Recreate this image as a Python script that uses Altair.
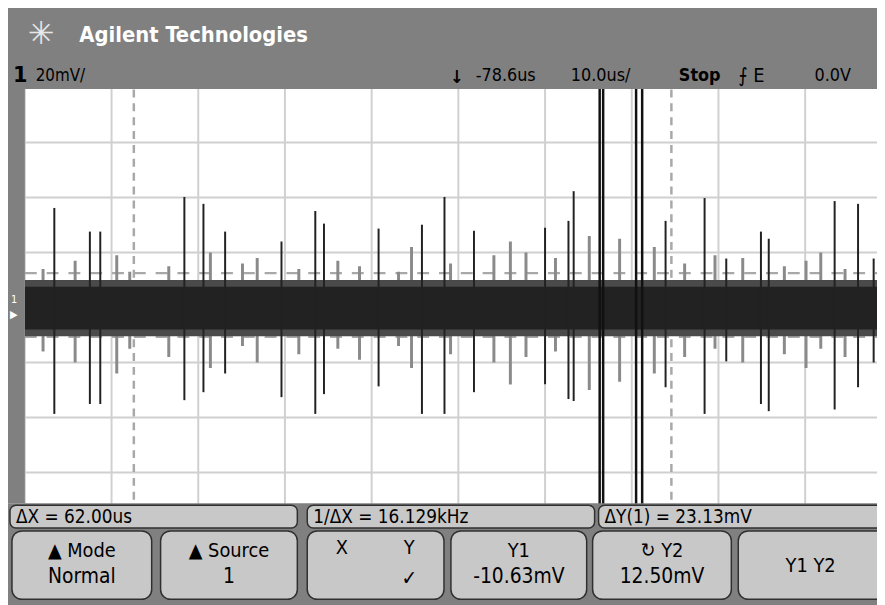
import altair as alt
import pandas as pd

# ---- data (time in us, voltage in mV) ----
grid_t = [-128.6, -118.6, -108.6, -98.6, -88.6, -78.6, -68.6, -58.6, -48.6, -38.6, -28.6]
grid_v = [-80, -60, -40, -20, 0, 20, 40, 60, 80]
cursor_x = [-116.03, -54.03]
cursor_y = [-10.63, 12.50]

spike_t = [-125.2, -121.1, -119.9, -110.2, -108.0, -105.5, -99.0, -95.1, -94.1, -87.8,
           -82.8, -80.2, -76.8, -68.6, -65.9, -65.3, -54.7, -50.2, -47.7, -43.7,
           -42.8, -35.2, -32.5, -30.7]
spike_top = [36.2, 27.6, 27.6, 40.2, 37.7, 27.6, 24.0, 35.1, 30.5, 28.7,
             30.1, 40.2, 27.9, 29.0, 31.5, 42.3, 31.5, 39.8, 17.8, 27.6,
             25.0, 38.7, 37.7, 17.8]
spike_bot = [-38.7, -35.1, -35.1, -33.7, -30.8, -24.0, -32.6, -38.7, -31.5, -28.7,
             -38.7, -38.7, -30.8, -27.9, -33.3, -34.0, -29.0, -38.7, -19.6, -35.1,
             -37.7, -37.1, -29.0, -20.0]
# medium grey spikes in the noise
grey_t = [-126.5, -122.8, -118.0, -116.5, -112.0, -107.2, -103.5, -101.8, -97.0, -92.5,
          -90.0, -85.5, -84.0, -79.5, -74.5, -72.6, -70.8, -67.4, -63.5, -60.0,
          -56.0, -52.5, -49.0, -45.8, -41.0, -38.5, -36.8, -34.0, -29.8]
grey_top = [14, 17, 19, 13, 15, 20, 16, 18, 14, 17,
            15, 13, 22, 16, 19, 24, 20, 18, 26, 25,
            22, 16, 19, 18, 15, 17, 20, 14, 16]
grey_bot = [-16, -20, -24, -15, -18, -22, -14, -20, -17, -15,
            -19, -14, -22, -17, -20, -28, -18, -16, -30, -27,
            -24, -18, -15, -20, -17, -22, -15, -18, -19]
big_t = [-62.3, -61.9, -58.1, -57.4]
big_top = [80, 80, 80, 80]
big_bot = [-80, -80, -80, -80]
band_outer = [-10.5, 10.0]
band_inner = [-8.0, 7.5]

OX, OY = 8, 8
xs = alt.Scale(domain=[-128.6, -28.6], range=[25 - OX, 900 - OX])
ys = alt.Scale(domain=[-80, 80], range=[529.5 - OY, 85.5 - OY])

def X(f):
    return alt.X(f, type="quantitative", scale=xs, axis=None)

def Y(f):
    return alt.Y(f, type="quantitative", scale=ys, axis=None)

one = pd.DataFrame({"a": [0]})

def box(x1, y1, x2, y2, fill, stroke=None, r=0, sw=1.5):
    kw = dict(fill=fill, cornerRadius=r)
    if stroke:
        kw.update(stroke=stroke, strokeWidth=sw)
    return alt.Chart(one).mark_rect(**kw).encode(
        x=alt.value(x1 - OX), x2=alt.value(x2 - OX),
        y=alt.value(y1 - OY), y2=alt.value(y2 - OY))

def txt(s, x, y, size=17, color="black", weight="normal", align="left", font="DejaVu Sans Condensed"):
    return alt.Chart(one).mark_text(text=s, fontSize=size, color=color, fontWeight=weight,
                                    align=align, baseline="middle", font=font).encode(
        x=alt.value(x - OX), y=alt.value(y - OY))

def vrules(t, a, b, color, w, dash=None):
    kw = dict(color=color, strokeWidth=w)
    if dash:
        kw["strokeDash"] = dash
    return alt.Chart(pd.DataFrame({"t": t, "a": a, "b": b})).mark_rule(**kw).encode(
        x=X("t"), y=Y("a"), y2=alt.Y2("b"))

layers = []
layers.append(box(0, 0, 900, 610, "white"))
layers.append(vrules(grid_t, [-80] * 11, [80] * 11, "#d0d0d0", 2))
layers.append(alt.Chart(pd.DataFrame({"v": grid_v, "lo": [-128.6] * 9, "hi": [-28.6] * 9}))
              .mark_rule(color="#d0d0d0", strokeWidth=2).encode(y=Y("v"), x=X("lo"), x2=alt.X2("hi")))
layers.append(vrules(cursor_x, [-80] * 2, [80] * 2, "#a8a8a8", 2.5, [8, 6]))
layers.append(alt.Chart(pd.DataFrame({"v": cursor_y, "lo": [-128.6] * 2, "hi": [-28.6] * 2}))
              .mark_rule(color="#a8a8a8", strokeWidth=2.5, strokeDash=[12, 10]).encode(y=Y("v"), x=X("lo"), x2=alt.X2("hi")))
layers.append(vrules(grey_t, grey_top, grey_bot, "#8a8a8a", 3))
layers.append(alt.Chart(pd.DataFrame({"lo": [-128.6], "hi": [-28.6], "a": [band_outer[0]], "b": [band_outer[1]]}))
              .mark_rect(color="#4a4a4a").encode(x=X("lo"), x2=alt.X2("hi"), y=Y("a"), y2=alt.Y2("b")))
layers.append(alt.Chart(pd.DataFrame({"lo": [-128.6], "hi": [-28.6], "a": [band_inner[0]], "b": [band_inner[1]]}))
              .mark_rect(color="#222222").encode(x=X("lo"), x2=alt.X2("hi"), y=Y("a"), y2=alt.Y2("b")))
layers.append(vrules(spike_t, spike_top, spike_bot, "#222", 2))
layers.append(vrules(big_t, big_top, big_bot, "#111", 2.5))

layers.append(box(0, 0, 900, 87, "#808080"))
layers.append(box(0, 87, 25, 505, "#808080"))
layers.append(box(0, 505, 900, 610, "#808080"))
for x1, x2, s in [(10, 300, "ΔX = 62.00us"), (310, 600, "1/ΔX = 16.129kHz"), (604, 900, "ΔY(1) = 23.13mV")]:
    layers.append(box(x1, 507, x2, 530, "#c8c8c8", "#303030", 6))
    layers.append(txt(s, x1 + 6, 519, 19))
keys = [(12, 153, "▲  Mode", "Normal"), (162, 300, "▲ Source", "1"),
        (455, 592, "Y1", "-10.63mV"), (598, 738, "↻  Y2", "12.50mV")]
for x1, x2, a, b in keys:
    layers.append(box(x1, 533, x2, 602, "#c8c8c8", "#303030", 10))
    cx = (x1 + x2) / 2
    layers.append(txt(a, cx, 553, 20, align="center"))
    layers.append(txt(b, cx, 580, 21, align="center"))
layers.append(box(310, 533, 448, 602, "#c8c8c8", "#303030", 10))
layers.append(txt("X", 345, 550, 20, align="center"))
layers.append(txt("Y", 413, 550, 20, align="center"))
layers.append(txt("✓", 413, 582, 21, align="center"))
layers.append(box(745, 533, 900, 602, "#c8c8c8", "#303030", 10))
layers.append(txt("Y1  Y2", 818, 568, 20, align="center"))

layers.append(txt("✳", 28, 32, 32, color="#e8e8e8", font="DejaVu Sans"))
layers.append(txt("Agilent Technologies", 80, 33, 22, color="white", weight="bold", font="DejaVu Sans Condensed"))
layers.append(txt("1", 13, 74, 21, weight="bold", font="DejaVu Sans"))
layers.append(txt("20mV/", 36, 74, 17))
layers.append(txt("↓", 454, 76, 18, weight="bold"))
layers.append(txt("-78.6us", 480, 74, 18))
layers.append(txt("10.0us/", 576, 74, 18))
layers.append(txt("Stop", 685, 74, 18, weight="bold"))
layers.append(txt("⨍ E", 745, 74, 20))
layers.append(txt("0.0V", 822, 74, 18))
layers.append(txt("1", 11, 300, 11, color="white"))
layers.append(txt("▶", 10, 315, 11, color="white"))

chart = alt.layer(*layers).properties(
    width=877, height=597, padding=0, autosize=alt.AutoSizeParams(type="none")
).configure_view(stroke=None).configure(background="white")

chart.save("out.html", embed_options={"renderer": "svg", "actions": False})
